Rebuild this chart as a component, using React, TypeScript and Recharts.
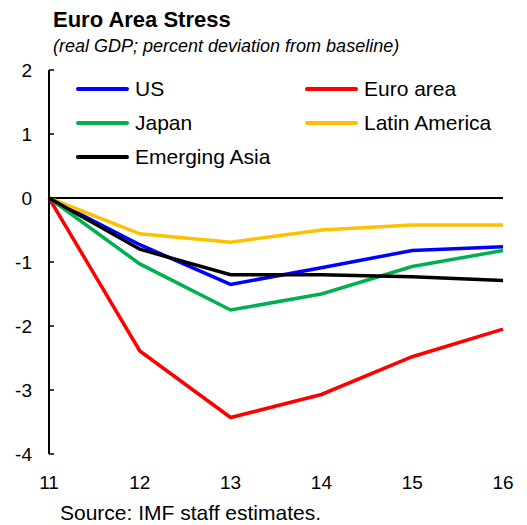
import { Line, LineChart, ReferenceLine, XAxis, YAxis } from "recharts";

const years = ["11", "12", "13", "14", "15", "16"];
const us = [0, -0.73, -1.35, -1.09, -0.82, -0.76];
const euroArea = [0, -2.39, -3.43, -3.07, -2.48, -2.05];
const japan = [0, -1.03, -1.75, -1.5, -1.07, -0.82];
const latinAmerica = [0, -0.56, -0.69, -0.5, -0.42, -0.42];
const emergingAsia = [0, -0.8, -1.2, -1.2, -1.23, -1.29];
const yTicks = [-4, -3, -2, -1, 0, 1, 2];

const series = [
  { key: "us", name: "US", color: "#0000ff", values: us },
  { key: "euro", name: "Euro area", color: "#ff0000", values: euroArea },
  { key: "japan", name: "Japan", color: "#00b050", values: japan },
  { key: "latam", name: "Latin America", color: "#ffc000", values: latinAmerica },
  { key: "asia", name: "Emerging Asia", color: "#000000", values: emergingAsia }
];

const data = years.map((year, i) => {
  const row: Record<string, string | number> = { year };
  series.forEach((s) => {
    row[s.key] = s.values[i];
  });
  return row;
});

const font = "'Liberation Sans', Arial, sans-serif";

function LegendBox() {
  return (
    <div
      style={{
        position: "absolute",
        left: 76,
        top: 72,
        display: "grid",
        gridTemplateColumns: "229px 200px",
        fontFamily: font,
        fontSize: 21,
        color: "#000"
      }}
    >
      {series.map((s) => (
        <div key={s.key} style={{ display: "flex", alignItems: "center", height: 34 }}>
          <span
            style={{
              display: "inline-block",
              width: 53,
              height: 4,
              borderRadius: 2,
              background: s.color,
              marginRight: 6
            }}
          />
          <span>{s.name}</span>
        </div>
      ))}
    </div>
  );
}

export default function App() {
  return (
    <div
      style={{
        position: "absolute",
        left: 0,
        top: 0,
        width: 527,
        height: 525,
        background: "#fff",
        fontFamily: font
      }}
    >
      <div style={{ position: "absolute", left: 53, top: 7, fontSize: 22, fontWeight: 700 }}>
        Euro Area Stress
      </div>
      <div style={{ position: "absolute", left: 53, top: 36, fontSize: 18, fontStyle: "italic" }}>
        (real GDP; percent deviation from baseline)
      </div>
      <LineChart
        width={527}
        height={525}
        data={data}
        margin={{ top: 70, right: 24, bottom: 41, left: 0 }}
      >
        <XAxis
          dataKey="year"
          axisLine={false}
          tickLine={false}
          tickSize={0}
          tickMargin={22}
          height={30}
          interval={0}
          padding={{ left: 0, right: 0 }}
          tick={{ fontSize: 19, fill: "#000", fontFamily: font }}
        />
        <YAxis
          type="number"
          domain={[-4, 2]}
          ticks={yTicks}
          interval={0}
          width={49}
          axisLine={{ stroke: "#000", strokeWidth: 2 }}
          tickLine={{ stroke: "#000", strokeWidth: 1.5 }}
          tickSize={-5}
          tickMargin={22}
          tick={{ fontSize: 19, fill: "#000", fontFamily: font }}
        />
        <ReferenceLine y={0} stroke="#000" strokeWidth={2} />
        {series.map((s) => (
          <Line
            key={s.key}
            dataKey={s.key}
            name={s.name}
            stroke={s.color}
            strokeWidth={3.5}
            dot={false}
            type="linear"
            isAnimationActive={false}
          />
        ))}
      </LineChart>
      <LegendBox />
      <div style={{ position: "absolute", left: 60, top: 501, fontSize: 21 }}>
        Source: IMF staff estimates.
      </div>
    </div>
  );
}
